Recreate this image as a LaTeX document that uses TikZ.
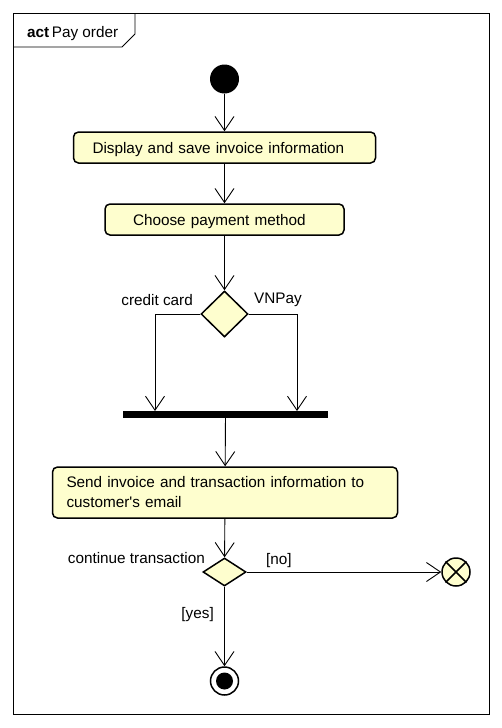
\documentclass[tikz,border=0pt]{standalone}
\usepackage{fontspec}
\setmainfont{Liberation Sans}
\usetikzlibrary{arrows.meta,shapes.geometric}
\definecolor{actfill}{HTML}{FEFECE}
\tikzset{
  txt/.style={font=\fontsize{15.3}{17}\selectfont, inner sep=0pt},
  actbox/.style={draw=black, line width=1.5pt, fill=actfill, rounded corners=5pt,
    inner xsep=0pt, inner ysep=0pt, align=left, font=\fontsize{15.3}{20}\selectfont},
  onebox/.style={actbox, text height=11pt, text depth=0pt},
  decision/.style={diamond, draw=black, line width=1.5pt, fill=actfill, inner sep=0pt},
  arr/.style={draw=black, line width=0.9pt, -{Straight Barb[length=14pt,width=19pt,line width=0.9pt]}},
}
\begin{document}
\begin{tikzpicture}[x=1pt,y=-1pt]
\useasboundingbox (0,0) rectangle (502,728);
\fill[white] (0,0) rectangle (502,728);
% frame
\draw[line width=0.8pt] (13,13) rectangle (489,714);
\draw[line width=0.8pt] (13,47) -- (122,47) -- (135,34) -- (135,13);
\node[txt, anchor=base west] (title) at (27,37) {\textbf{act}\,Pay order};

% start
\node[circle, fill=black, minimum size=29pt, inner sep=0pt] (start) at (224.5,79) {};
% box 1
\node[onebox, minimum width=302pt, minimum height=31pt, text width=264pt] (b1) at (224.5,147.5) {Display and save invoice information};
% box 2
\node[onebox, minimum width=239pt, minimum height=31pt, text width=183pt] (b2) at (224.5,219.5) {Choose payment method};
% decision 1
\node[decision, minimum width=47pt, minimum height=46pt] (d1) at (224.5,314) {};
\node[txt, anchor=east] (lcc) at (193,300) {credit card};
\node[txt, anchor=west] (lvn) at (254,300) {VNPay};
% bar
\node[fill=black, minimum width=205pt, minimum height=7pt, inner sep=0pt] (bar) at (225.5,414.5) {};
\coordinate (barL) at (155,411);
\coordinate (barR) at (297,411);
% box 3
\node[actbox, minimum width=345pt, minimum height=51pt, text width=317pt] (b3) at (225,492.5) {Send invoice and transaction information to\\customer\textquotesingle s email};
% decision 2
\node[decision, minimum width=43pt, minimum height=28pt] (d2) at (224.5,572) {};
\node[txt, anchor=east] (lct) at (205,558.5) {continue transaction};
\node[txt, anchor=west] (lno) at (266,560.5) {[no]};
\node[txt, anchor=east] (lyes) at (214,615) {[yes]};
% flow final
\node[circle, draw=black, line width=1.5pt, fill=actfill, minimum size=28pt, inner sep=0pt] (flow) at (456,572) {};
\draw[line width=1.5pt] (flow.north west) -- (flow.south east) (flow.north east) -- (flow.south west);
% final
\node[circle, draw=black, line width=1.5pt, fill=white, minimum size=28pt, inner sep=0pt] (final) at (224.5,681) {};
\node[circle, fill=black, minimum size=17pt, inner sep=0pt] (finaldot) at (final.center) {};

% connectors
\draw[arr] (start) -- (b1);
\draw[arr] (b1) -- (b2);
\draw[arr] (b2) -- (d1);
\draw[arr] (d1.west) -| (barL);
\draw[arr] (d1.east) -| (barR);
\draw[arr] (bar) -- (b3);
\draw[arr] (b3) -- (d2);
\draw[arr] (d2.east) -- (flow);
\draw[arr] (d2) -- (final);
\end{tikzpicture}
\end{document}
